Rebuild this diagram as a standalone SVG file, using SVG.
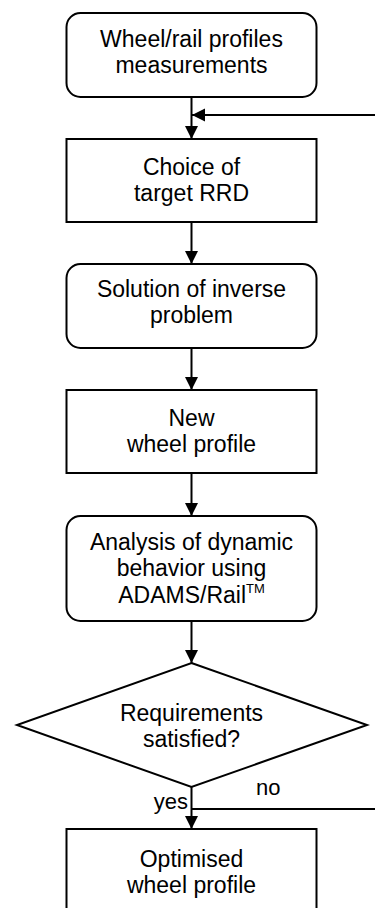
<svg xmlns="http://www.w3.org/2000/svg" width="375" height="908" viewBox="0 0 375 908">
<style>
.box{fill:#fff;stroke:#000;stroke-width:2}
.ln{fill:none;stroke:#000;stroke-width:2}
text{font-family:"Liberation Sans",Arial,sans-serif;font-size:23px;fill:#000;text-anchor:middle}
.lbl{font-size:22px}
</style>
<defs>
<marker id="ah" markerUnits="userSpaceOnUse" markerWidth="14" markerHeight="14" refX="13" refY="6.5" orient="auto">
<path d="M0,0 L13,6.5 L0,13 z" fill="#000"/>
</marker>
</defs>
<rect width="375" height="908" fill="#fff"/>
<g id="connectors">
<line class="ln" x1="191.5" y1="97" x2="191.5" y2="139" marker-end="url(#ah)"/>
<line class="ln" x1="377" y1="115" x2="192" y2="115" marker-end="url(#ah)"/>
<line class="ln" x1="191.5" y1="222" x2="191.5" y2="264" marker-end="url(#ah)"/>
<line class="ln" x1="191.5" y1="348" x2="191.5" y2="390" marker-end="url(#ah)"/>
<line class="ln" x1="191.5" y1="473" x2="191.5" y2="516" marker-end="url(#ah)"/>
<line class="ln" x1="191.5" y1="621" x2="191.5" y2="663" marker-end="url(#ah)"/>
<line class="ln" x1="191.5" y1="787" x2="191.5" y2="829" marker-end="url(#ah)"/>
<line class="ln" x1="191.5" y1="809" x2="377" y2="809"/>
<text class="lbl" x="188" y="809" text-anchor="end" style="text-anchor:end">yes</text>
<text class="lbl" x="256" y="795" style="text-anchor:start">no</text>
</g>
<g id="n1">
<rect class="box" x="66.5" y="13" width="250" height="84" rx="14"/>
<text x="191.5" y="47">Wheel/rail profiles</text>
<text x="191.5" y="73">measurements</text>
</g>
<g id="n2">
<rect class="box" x="66.5" y="139" width="250" height="83"/>
<text x="191.5" y="175">Choice of</text>
<text x="191.5" y="201">target RRD</text>
</g>
<g id="n3">
<rect class="box" x="66.5" y="264" width="250" height="84" rx="14"/>
<text x="191.5" y="297">Solution of inverse</text>
<text x="191.5" y="323">problem</text>
</g>
<g id="n4">
<rect class="box" x="66.5" y="390" width="250" height="83"/>
<text x="191.5" y="426">New</text>
<text x="191.5" y="452">wheel profile</text>
</g>
<g id="n5">
<rect class="box" x="66.5" y="516" width="250" height="105" rx="14"/>
<text x="191.5" y="550">Analysis of dynamic</text>
<text x="191.5" y="576">behavior using</text>
<text x="191.5" y="603">ADAMS/Rail<tspan font-size="13" dy="-10">TM</tspan></text>
</g>
<g id="n6">
<polygon class="box" points="191.5,663 367,725 191.5,787 17,725"/>
<text x="191.5" y="721">Requirements</text>
<text x="191.5" y="747">satisfied?</text>
</g>
<g id="n7">
<rect class="box" x="66.5" y="829" width="250" height="100"/>
<text x="191.5" y="867">Optimised</text>
<text x="191.5" y="893">wheel profile</text>
</g>
</svg>
